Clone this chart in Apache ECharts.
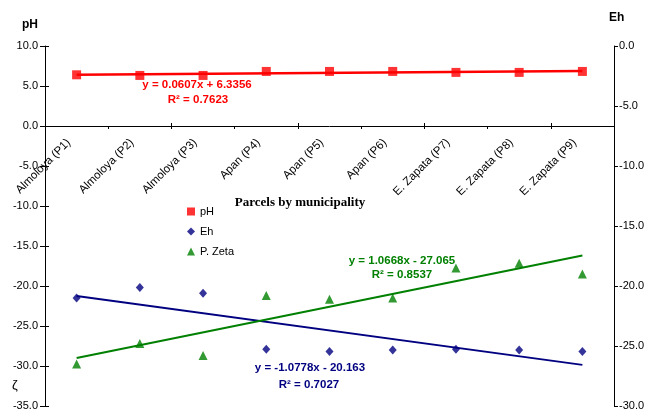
<!DOCTYPE html>
<html>
<head>
<meta charset="utf-8">
<script src="https://cdn.jsdelivr.net/npm/echarts@6/dist/echarts.min.js"></script>
<style>
  html, body { margin: 0; padding: 0; background: #fff; }
  #chart { width: 652px; height: 412px; }
</style>
</head>
<body>
<div id="chart"></div>
<script>
// ---- data ----
var categories = ['Almoloya (P1)', 'Almoloya (P2)', 'Almoloya (P3)', 'Apan (P4)', 'Apan (P5)', 'Apan (P6)', 'E. Zapata (P7)', 'E. Zapata (P8)', 'E. Zapata (P9)'];
var phValues = [6.40, 6.32, 6.32, 6.82, 6.82, 6.82, 6.70, 6.70, 6.82];
var ehValues = [-21.5, -20.2, -20.9, -27.9, -28.2, -28.0, -27.9, -28.0, -28.2];
var zetaValues = [-26.5, -24.8, -25.8, -20.8, -21.1, -21.0, -18.5, -18.1, -19.0];
var phTrendEnds = [6.40, 6.88];
var ehTrendEnds = [-21.24, -29.86];
var zetaTrendEnds = [-26.0, -17.46];
var leftTicks = { min: -35, max: 10, interval: 5 };
var rightTicks = { min: -30, max: 0, interval: 5 };
var phEquation = ['y = 0.0607x + 6.3356', 'R\u00b2 = 0.7623'];
var ehEquation = ['y = -1.0778x - 20.163', 'R\u00b2 = 0.7027'];
var zetaEquation = ['y = 1.0668x - 27.065', 'R\u00b2 = 0.8537'];

function trendSeries(ends) {
  var arr = categories.map(function () { return null; });
  arr[0] = ends[0];
  arr[arr.length - 1] = ends[1];
  return arr;
}

var FONT = 'Liberation Sans, Arial, sans-serif';
var RED = '#ff0000', NAVY = '#000080', GREEN = '#008000';

var GRID_TOP = 46, GRID_BOTTOM = 6, H = 412;
var plotH = H - GRID_TOP - GRID_BOTTOM;
// category axis sits where the left axis reads 0
var zeroFromBottom = plotH * (0 - leftTicks.min) / (leftTicks.max - leftTicks.min);

var chart = echarts.init(document.getElementById('chart'), null, { renderer: 'canvas' });

var fmt = function (v) { return v.toFixed(1); };

var option = {
  animation: false,
  backgroundColor: '#ffffff',
  grid: { left: 45, right: 38, top: GRID_TOP, bottom: GRID_BOTTOM, containLabel: false, outerBoundsMode: 'none' },
  legend: {
    orient: 'vertical',
    left: 187,
    top: 206,
    padding: 0,
    itemWidth: 8,
    itemHeight: 8,
    itemGap: 9,
    textStyle: { fontFamily: FONT, fontSize: 11, color: '#000' },
    data: [
      { name: 'pH', icon: 'rect' },
      { name: 'Eh', icon: 'diamond' },
      { name: 'P. Zeta', icon: 'triangle' }
    ]
  },
  xAxis: [
    {
      type: 'category',
      data: categories,
      boundaryGap: true,
      position: 'bottom',
      offset: -zeroFromBottom,
      axisLine: { show: true, onZero: false, lineStyle: { color: '#000', width: 1 } },
      axisTick: { show: true, length: 3, inside: false, lineStyle: { color: '#000' } },
      axisLabel: { interval: 0, rotate: 45, margin: 7, padding: [0, 11, 0, 0], fontFamily: FONT, fontSize: 11.5, color: '#000' },
      splitLine: { show: false }
    },
    {
      type: 'category',
      data: categories,
      boundaryGap: true,
      position: 'bottom',
      offset: -zeroFromBottom,
      axisLine: { show: false, onZero: false },
      axisTick: { show: true, length: 3, inside: true, lineStyle: { color: '#000' } },
      axisLabel: { show: false },
      splitLine: { show: false }
    }
  ],
  yAxis: [
    {
      type: 'value', position: 'left',
      min: leftTicks.min, max: leftTicks.max, interval: leftTicks.interval,
      axisLine: { show: true, lineStyle: { color: '#000' } },
      axisTick: { show: true, length: 5, lineStyle: { color: '#000' } },
      axisLabel: { formatter: fmt, margin: 7, fontFamily: FONT, fontSize: 11, color: '#000' },
      splitLine: { show: false }
    },
    {
      type: 'value', position: 'right',
      min: rightTicks.min, max: rightTicks.max, interval: rightTicks.interval,
      axisLine: { show: true, lineStyle: { color: '#000' } },
      axisTick: { show: true, length: 4, lineStyle: { color: '#000' } },
      axisLabel: { formatter: fmt, margin: 5, fontFamily: FONT, fontSize: 11, color: '#000' },
      splitLine: { show: false }
    },
    {
      type: 'value', position: 'left',
      min: leftTicks.min, max: leftTicks.max, interval: leftTicks.interval,
      axisLine: { show: false },
      axisTick: { show: true, inside: true, length: 4, lineStyle: { color: '#000' } },
      axisLabel: { show: false },
      splitLine: { show: false }
    }
  ],
  series: [
    {
      name: 'pH trend', type: 'line', yAxisIndex: 0, data: trendSeries(phTrendEnds),
      connectNulls: true, showSymbol: false, symbol: 'none',
      lineStyle: { color: RED, width: 2.5 }, z: 2, silent: true
    },
    {
      name: 'Eh trend', type: 'line', yAxisIndex: 0, data: trendSeries(ehTrendEnds),
      connectNulls: true, showSymbol: false, symbol: 'none',
      lineStyle: { color: NAVY, width: 2 }, z: 2, silent: true
    },
    {
      name: 'P. Zeta trend', type: 'line', yAxisIndex: 1, data: trendSeries(zetaTrendEnds),
      connectNulls: true, showSymbol: false, symbol: 'none',
      lineStyle: { color: GREEN, width: 2 }, z: 2, silent: true
    },
    {
      name: 'pH', type: 'scatter', yAxisIndex: 0, data: phValues,
      symbol: 'rect', symbolSize: 9, itemStyle: { color: RED }, z: 3
    },
    {
      name: 'Eh', type: 'scatter', yAxisIndex: 0, data: ehValues,
      symbol: 'diamond', symbolSize: [8, 9], itemStyle: { color: NAVY }, z: 3
    },
    {
      name: 'P. Zeta', type: 'scatter', yAxisIndex: 1, data: zetaValues,
      symbol: 'triangle', symbolSize: [9, 9], itemStyle: { color: GREEN }, z: 3
    }
  ],
  graphic: [
    { type: 'text', left: 22, top: 19, style: { text: 'pH', fontFamily: FONT, fontSize: 12, fontWeight: 'bold', fill: '#000' } },
    { type: 'text', left: 609, top: 12, style: { text: 'Eh', fontFamily: FONT, fontSize: 12, fontWeight: 'bold', fill: '#000' } },
    { type: 'text', left: 12, top: 379, style: { text: '\u03b6', fontFamily: FONT, fontSize: 13, fill: '#000' } },
    { type: 'text', x: 300, y: 203, style: { text: 'Parcels by municipality', fontFamily: 'Liberation Serif, Times New Roman, serif', fontSize: 13, fontWeight: 'bold', fill: '#000', align: 'center', verticalAlign: 'middle' } },
    { type: 'text', x: 197, y: 85, style: { text: phEquation[0], fontFamily: FONT, fontSize: 11.5, fontWeight: 'bold', fill: RED, align: 'center', verticalAlign: 'middle' } },
    { type: 'text', x: 198, y: 100, style: { text: phEquation[1], fontFamily: FONT, fontSize: 11.5, fontWeight: 'bold', fill: RED, align: 'center', verticalAlign: 'middle' } },
    { type: 'text', x: 402, y: 261, style: { text: zetaEquation[0], fontFamily: FONT, fontSize: 11.5, fontWeight: 'bold', fill: GREEN, align: 'center', verticalAlign: 'middle' } },
    { type: 'text', x: 402, y: 275, style: { text: zetaEquation[1], fontFamily: FONT, fontSize: 11.5, fontWeight: 'bold', fill: GREEN, align: 'center', verticalAlign: 'middle' } },
    { type: 'text', x: 310, y: 368, style: { text: ehEquation[0], fontFamily: FONT, fontSize: 11.5, fontWeight: 'bold', fill: NAVY, align: 'center', verticalAlign: 'middle' } },
    { type: 'text', x: 309, y: 385, style: { text: ehEquation[1], fontFamily: FONT, fontSize: 11.5, fontWeight: 'bold', fill: NAVY, align: 'center', verticalAlign: 'middle' } }
  ]
};
chart.setOption(option);
</script>
</body>
</html>
